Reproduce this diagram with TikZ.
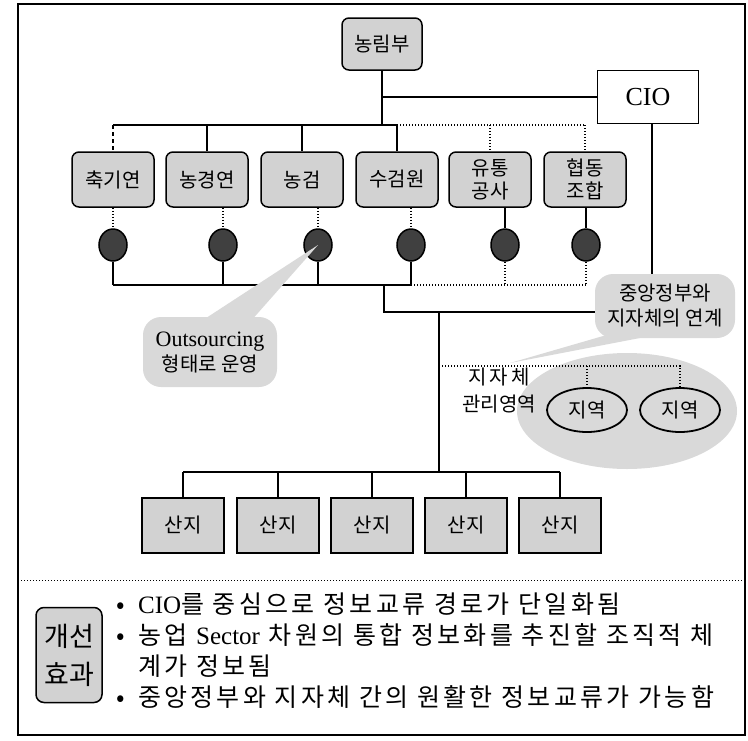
\documentclass[tikz,border=0pt]{standalone}
\usepackage{fontspec}
\setmainfont{Noto Sans CJK KR}
\newfontfamily\latfont{Liberation Serif}
\newfontfamily\widefont[LetterSpace=13]{Noto Sans CJK KR}
\newcommand{\lat}[1]{{\latfont #1}}
\usetikzlibrary{shapes.geometric}

\begin{document}
\begin{tikzpicture}[x=1pt, y=-1pt, line width=1.5pt,
  orgbox/.style={draw, rounded corners=7pt, fill=gray!35, minimum width=82pt, minimum height=55pt, align=center, inner sep=1pt, font=\fontsize{20}{23}\selectfont},
  sanji/.style={draw, fill=gray!35, minimum width=82pt, minimum height=55pt, font=\fontsize{20}{23}\selectfont},
  dot/.style={draw, ellipse, fill=black!75, minimum width=28pt, minimum height=32pt, inner sep=0pt},
  region/.style={draw, ellipse, line width=1.8pt, minimum width=80pt, minimum height=44pt, inner sep=0pt, font=\fontsize{20}{23}\selectfont},
  dotline/.style={line width=1.3pt, dash pattern=on 1.3pt off 1.7pt},
  bubble/.style={fill=gray!30, rounded corners=18pt, align=center, font=\fontsize{20}{25}\selectfont}]
  \useasboundingbox (0,0) rectangle (748,740);
  \draw[line width=1.2pt] (18,4) rectangle (745,735);

  % area of the local governments
  \fill[gray!30] (627,411) ellipse [x radius=110, y radius=58];

  \node[orgbox, minimum width=80pt, minimum height=52pt] (mafra) at (382,44) {농림부};
  \node[draw, fill=white, minimum width=101pt, minimum height=53pt, font=\latfont\fontsize{26}{28}\selectfont] (cio) at (648,97) {CIO};
  \foreach \i/\x/\cx/\t in {1/113/113/축기연, 2/207/223/농경연, 3/302/318/농검, 4/397/411/수검원, 5/490/505/{유통\\공사}, 6/585/586/{협동\\조합}} {
    \node[orgbox] (a\i) at (\x,179.5) {\t};
    \node[dot] (c\i) at (\cx,245) {};
  }
  \foreach \i/\x in {1/183, 2/278, 3/372, 4/466, 5/560}
    \node[sanji] (s\i) at (\x,525.5) {산지};
  \node[region] (r1) at (587,410) {지역};
  \node[region] (r2) at (680,410) {지역};
  \node[align=center, font=\fontsize{20}{27}\selectfont] (local) at (499,391) {지\,자\,체\\관리영역};

  \coordinate (bus) at (0,125);
  \coordinate (lbus) at (0,285);
  \coordinate (sbus) at (0,472);
  \coordinate (j1) at (384,285);
  \coordinate (j2) at (384,312);
  \coordinate (j3) at (439,312);
  \coordinate (rj) at (439,366);

  \draw (mafra.south) -- (mafra.south |- bus);
  \draw (mafra.south |- cio.west) -- (cio.west);
  \draw (a1.north |- bus) -- (a4.north |- bus);
  \draw[dotline] (a4.north |- bus) -- (a6.north |- bus);
  \draw[dash pattern=on 4pt off 3pt] (a1.north |- bus) -- (a1.north);
  \foreach \i in {2,3,4} \draw (a\i.north |- bus) -- (a\i.north);
  \foreach \i in {5,6} \draw[dotline] (a\i.north |- bus) -- (a\i.north);

  \foreach \i in {1,...,4} {
    \draw[dotline] (c\i |- a\i.south) -- (c\i.north);
    \draw (c\i.south) -- (c\i |- lbus);
  }
  \foreach \i in {5,6} {
    \draw (c\i |- a\i.south) -- (c\i.north);
    \draw[dotline] (c\i.south) -- (c\i |- lbus);
  }
  \draw (c1 |- lbus) -- (c4 |- lbus);
  \draw[dotline] (c4 |- lbus) -- (c6 |- lbus);

  \draw (j1) -- (j2) -| ([xshift=4pt]cio.south);
  \draw (j3) -- (j3 |- sbus);
  \draw (s1.north |- sbus) -- (s5.north |- sbus);
  \foreach \i in {1,...,5} \draw (s\i.north |- sbus) -- (s\i.north);

  \draw[dotline] (rj) -| (r2.north);
  \draw[dotline] (r1.north |- rj) -- (r1.north);

  % callouts
  \fill[gray!30] (200,322) -- (c3.center) -- (250,322) -- cycle;
  \node[bubble, minimum width=134pt, minimum height=70pt] (out) at (210,352) {\lat{\fontsize{22}{25}\selectfont Outsourcing}\\형태로 운영};
  \fill[gray!30] (610,334) -- (510,363) -- (640,338) -- cycle;
  \node[bubble, minimum width=140pt, minimum height=64pt] (link) at (665,306) {중앙정부와\\지자체의 연계};

  \draw[dotline, line width=1pt] (18,580) -- (745,580);
  \node[draw, rounded corners=8pt, fill=gray!35, minimum width=66pt, minimum height=95pt, align=center, font=\fontsize{27}{38}\selectfont] (gain) at (69,655) {개선\\효과};
  \node[anchor=west, align=left, font=\widefont\fontsize{25}{31}\selectfont] (effects) at (112,651) {%
    \makebox[22pt][l]{•}\lat{CIO}를 중심으로 정보교류 경로가 단일화됨\\
    \makebox[22pt][l]{•}농업 \lat{Sector} 차원의 통합 정보화를 추진할 조직적 체\\
    \makebox[22pt][l]{}계가 정보됨\\
    \makebox[22pt][l]{•}중앙정부와 지자체 간의 원활한 정보교류가 가능함};
\end{tikzpicture}
\end{document}
